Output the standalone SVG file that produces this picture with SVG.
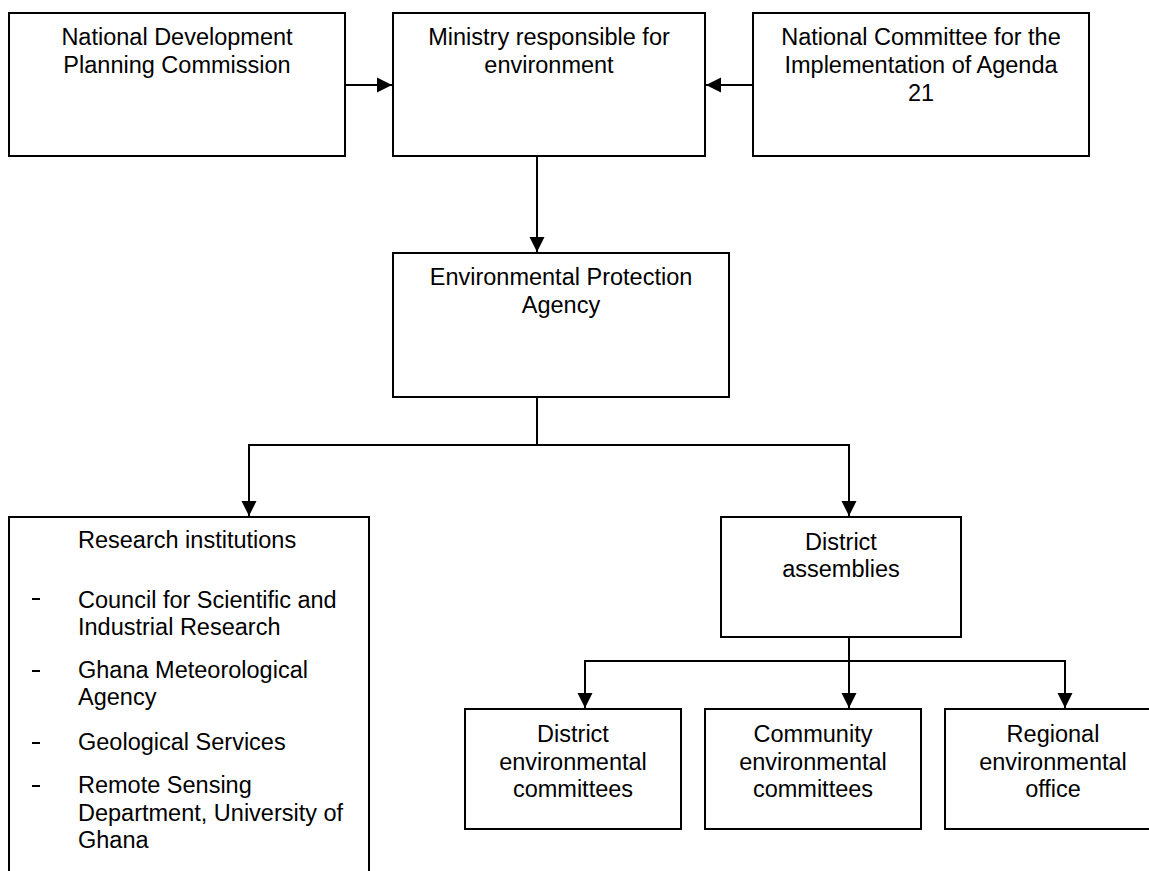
<svg xmlns="http://www.w3.org/2000/svg" width="1149" height="871" viewBox="0 0 1149 871">
<style>
.box{fill:#fff;stroke:#000;stroke-width:2}
.t{font-family:"Liberation Sans",Arial,sans-serif;font-size:23.5px;fill:#000}
.c{text-anchor:middle}
.ln{fill:none;stroke:#000;stroke-width:2}
</style>
<defs>
<marker id="ah" markerUnits="userSpaceOnUse" markerWidth="16" markerHeight="16" viewBox="0 0 16 16" refX="15" refY="8" orient="auto">
<path d="M0,0.5 L15,8 L0,15.5 Z" fill="#000"/>
</marker>
</defs>
<rect width="1149" height="871" fill="#fff"/>
<g id="connectors">
<line class="ln" x1="345" y1="85" x2="392" y2="85" marker-end="url(#ah)"/>
<line class="ln" x1="753" y1="85" x2="706" y2="85" marker-end="url(#ah)"/>
<line class="ln" x1="537" y1="156" x2="537" y2="252" marker-end="url(#ah)"/>
<polyline class="ln" points="537,397 537,445 249,445 249,516" marker-end="url(#ah)"/>
<polyline class="ln" points="537,445 849,445 849,516" marker-end="url(#ah)"/>
<line class="ln" x1="849" y1="637" x2="849" y2="708" marker-end="url(#ah)"/>
<polyline class="ln" points="585,708 585,661 1065,661 1065,708" marker-end="url(#ah)"/>
<line class="ln" x1="585" y1="661" x2="585" y2="708" marker-end="url(#ah)"/>
</g>
<g id="ndpc">
<rect class="box" x="9" y="13" width="336" height="143"/>
<text class="t c" x="177" y="45">National Development</text>
<text class="t c" x="177" y="73">Planning Commission</text>
</g>
<g id="ministry">
<rect class="box" x="393" y="13" width="312" height="143"/>
<text class="t c" x="549" y="45">Ministry responsible for</text>
<text class="t c" x="549" y="73">environment</text>
</g>
<g id="agenda21">
<rect class="box" x="753" y="13" width="336" height="143"/>
<text class="t c" x="921" y="45">National Committee for the</text>
<text class="t c" x="921" y="73">Implementation of Agenda</text>
<text class="t c" x="921" y="101">21</text>
</g>
<g id="epa">
<rect class="box" x="393" y="253" width="336" height="144"/>
<text class="t c" x="561" y="285">Environmental Protection</text>
<text class="t c" x="561" y="313">Agency</text>
</g>
<g id="research">
<rect class="box" x="9" y="517" width="360" height="370"/>
<text class="t" x="78" y="548">Research institutions</text>
<line class="ln" x1="32" y1="599" x2="40" y2="599" stroke-width="1.5"/>
<text class="t" x="78" y="608">Council for Scientific and</text>
<text class="t" x="78" y="635">Industrial Research</text>
<line class="ln" x1="32" y1="671" x2="40" y2="671" stroke-width="1.5"/>
<text class="t" x="78" y="678">Ghana Meteorological</text>
<text class="t" x="78" y="705">Agency</text>
<line class="ln" x1="32" y1="743" x2="40" y2="743" stroke-width="1.5"/>
<text class="t" x="78" y="750">Geological Services</text>
<line class="ln" x1="32" y1="786" x2="40" y2="786" stroke-width="1.5"/>
<text class="t" x="78" y="793">Remote Sensing</text>
<text class="t" x="78" y="821">Department, University of</text>
<text class="t" x="78" y="848">Ghana</text>
</g>
<g id="district-assemblies">
<rect class="box" x="721" y="517" width="240" height="120"/>
<text class="t c" x="841" y="550">District</text>
<text class="t c" x="841" y="577">assemblies</text>
</g>
<g id="district-env">
<rect class="box" x="465" y="709" width="216" height="120"/>
<text class="t c" x="573" y="742">District</text>
<text class="t c" x="573" y="770">environmental</text>
<text class="t c" x="573" y="797">committees</text>
</g>
<g id="community-env">
<rect class="box" x="705" y="709" width="216" height="120"/>
<text class="t c" x="813" y="742">Community</text>
<text class="t c" x="813" y="770">environmental</text>
<text class="t c" x="813" y="797">committees</text>
</g>
<g id="regional-env">
<rect class="box" x="945" y="709" width="216" height="120"/>
<text class="t c" x="1053" y="742">Regional</text>
<text class="t c" x="1053" y="770">environmental</text>
<text class="t c" x="1053" y="797">office</text>
</g>
</svg>
